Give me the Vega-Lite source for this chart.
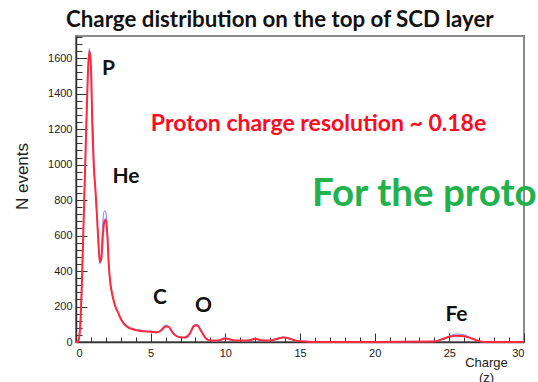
{
  "$schema": "https://vega.github.io/schema/vega-lite/v6.json",
  "autosize": {"type": "none"},
  "width": 448,
  "height": 306,
  "padding": {"left": 76, "top": 36, "right": 14, "bottom": 40},
  "background": "white",
  "title": {
    "text": "Charge distribution on the top of SCD layer",
    "anchor": "start",
    "frame": "group",
    "dx": -10,
    "dy": 25,
    "offset": 12,
    "baseline": "alphabetic",
    "font": "Lato",
    "fontSize": 22.3,
    "fontWeight": "bold",
    "color": "#111"
  },
  "config": {
    "view": {"stroke": "#8a8a8a", "strokeWidth": 2},
    "axis": {"grid": false}
  },
  "datasets": {
    "hist": [
      {"z": 0, "n": 0, "s": "blue"}, {"z": 0.2, "n": 15, "s": "blue"}, {"z": 0.3, "n": 110, "s": "blue"}, {"z": 0.4, "n": 340, "s": "blue"},
      {"z": 0.5, "n": 640, "s": "blue"}, {"z": 0.6, "n": 960, "s": "blue"}, {"z": 0.7, "n": 1240, "s": "blue"}, {"z": 0.8, "n": 1530, "s": "blue"},
      {"z": 0.9, "n": 1655, "s": "blue"}, {"z": 1.0, "n": 1500, "s": "blue"}, {"z": 1.1, "n": 1230, "s": "blue"}, {"z": 1.15, "n": 1200, "s": "blue"},
      {"z": 1.2, "n": 1010, "s": "blue"}, {"z": 1.3, "n": 850, "s": "blue"}, {"z": 1.4, "n": 700, "s": "blue"}, {"z": 1.5, "n": 560, "s": "blue"},
      {"z": 1.6, "n": 440, "s": "blue"}, {"z": 1.7, "n": 500, "s": "blue"}, {"z": 1.8, "n": 680, "s": "blue"}, {"z": 1.9, "n": 740, "s": "blue"},
      {"z": 2.0, "n": 730, "s": "blue"}, {"z": 2.1, "n": 620, "s": "blue"}, {"z": 2.2, "n": 420, "s": "blue"}, {"z": 2.3, "n": 340, "s": "blue"},
      {"z": 2.4, "n": 270, "s": "blue"}, {"z": 2.5, "n": 250, "s": "blue"}, {"z": 2.6, "n": 205, "s": "blue"}, {"z": 2.7, "n": 190, "s": "blue"},
      {"z": 2.8, "n": 165, "s": "blue"}, {"z": 3.0, "n": 135, "s": "blue"}, {"z": 3.2, "n": 100, "s": "blue"}, {"z": 3.4, "n": 92, "s": "blue"},
      {"z": 3.6, "n": 75, "s": "blue"}, {"z": 3.8, "n": 78, "s": "blue"}, {"z": 4.0, "n": 65, "s": "blue"}, {"z": 4.3, "n": 68, "s": "blue"},
      {"z": 4.6, "n": 58, "s": "blue"}, {"z": 5.0, "n": 62, "s": "blue"}, {"z": 5.4, "n": 52, "s": "blue"}, {"z": 5.7, "n": 70, "s": "blue"},
      {"z": 6.0, "n": 95, "s": "blue"}, {"z": 6.2, "n": 88, "s": "blue"}, {"z": 6.5, "n": 48, "s": "blue"}, {"z": 6.8, "n": 32, "s": "blue"},
      {"z": 7.0, "n": 25, "s": "blue"}, {"z": 7.3, "n": 28, "s": "blue"}, {"z": 7.6, "n": 48, "s": "blue"}, {"z": 7.9, "n": 95, "s": "blue"},
      {"z": 8.1, "n": 98, "s": "blue"}, {"z": 8.4, "n": 55, "s": "blue"}, {"z": 8.7, "n": 22, "s": "blue"}, {"z": 9.0, "n": 10, "s": "blue"},
      {"z": 9.5, "n": 6, "s": "blue"}, {"z": 10.0, "n": 25, "s": "blue"}, {"z": 10.3, "n": 12, "s": "blue"}, {"z": 10.7, "n": 10, "s": "blue"},
      {"z": 11.5, "n": 6, "s": "blue"}, {"z": 12.0, "n": 20, "s": "blue"}, {"z": 12.4, "n": 8, "s": "blue"}, {"z": 13.0, "n": 10, "s": "blue"},
      {"z": 13.5, "n": 20, "s": "blue"}, {"z": 13.9, "n": 28, "s": "blue"}, {"z": 14.3, "n": 18, "s": "blue"}, {"z": 14.8, "n": 5, "s": "blue"},
      {"z": 15.5, "n": 3, "s": "blue"}, {"z": 16.5, "n": 0, "s": "blue"}, {"z": 20, "n": 0, "s": "blue"}, {"z": 24, "n": 4, "s": "blue"},
      {"z": 24.5, "n": 18, "s": "blue"}, {"z": 25, "n": 32, "s": "blue"}, {"z": 25.5, "n": 45, "s": "blue"}, {"z": 26, "n": 40, "s": "blue"},
      {"z": 26.5, "n": 18, "s": "blue"}, {"z": 27, "n": 4, "s": "blue"}, {"z": 27.5, "n": 0, "s": "blue"}, {"z": 30, "n": 0, "s": "blue"},

      {"z": 0, "n": 0, "s": "red"}, {"z": 0.1, "n": 0, "s": "red"}, {"z": 0.2, "n": 20, "s": "red"}, {"z": 0.3, "n": 120, "s": "red"},
      {"z": 0.4, "n": 350, "s": "red"}, {"z": 0.5, "n": 650, "s": "red"}, {"z": 0.6, "n": 950, "s": "red"}, {"z": 0.7, "n": 1250, "s": "red"},
      {"z": 0.8, "n": 1520, "s": "red"}, {"z": 0.9, "n": 1640, "s": "red"}, {"z": 1.0, "n": 1560, "s": "red"}, {"z": 1.1, "n": 1200, "s": "red"},
      {"z": 1.2, "n": 980, "s": "red"}, {"z": 1.3, "n": 860, "s": "red"}, {"z": 1.4, "n": 720, "s": "red"}, {"z": 1.5, "n": 560, "s": "red"},
      {"z": 1.6, "n": 450, "s": "red"}, {"z": 1.7, "n": 470, "s": "red"}, {"z": 1.8, "n": 600, "s": "red"}, {"z": 1.9, "n": 680, "s": "red"},
      {"z": 2.0, "n": 690, "s": "red"}, {"z": 2.1, "n": 600, "s": "red"}, {"z": 2.2, "n": 430, "s": "red"}, {"z": 2.3, "n": 330, "s": "red"},
      {"z": 2.4, "n": 280, "s": "red"}, {"z": 2.5, "n": 240, "s": "red"}, {"z": 2.6, "n": 210, "s": "red"}, {"z": 2.7, "n": 185, "s": "red"},
      {"z": 2.8, "n": 170, "s": "red"}, {"z": 3.0, "n": 130, "s": "red"}, {"z": 3.2, "n": 105, "s": "red"}, {"z": 3.4, "n": 88, "s": "red"},
      {"z": 3.6, "n": 78, "s": "red"}, {"z": 3.8, "n": 72, "s": "red"}, {"z": 4.0, "n": 68, "s": "red"}, {"z": 4.3, "n": 62, "s": "red"},
      {"z": 4.6, "n": 60, "s": "red"}, {"z": 5.0, "n": 58, "s": "red"}, {"z": 5.4, "n": 55, "s": "red"}, {"z": 5.7, "n": 65, "s": "red"},
      {"z": 6.0, "n": 88, "s": "red"}, {"z": 6.2, "n": 85, "s": "red"}, {"z": 6.5, "n": 50, "s": "red"}, {"z": 6.8, "n": 30, "s": "red"},
      {"z": 7.0, "n": 27, "s": "red"}, {"z": 7.3, "n": 25, "s": "red"}, {"z": 7.6, "n": 45, "s": "red"}, {"z": 7.9, "n": 90, "s": "red"},
      {"z": 8.1, "n": 95, "s": "red"}, {"z": 8.4, "n": 60, "s": "red"}, {"z": 8.7, "n": 20, "s": "red"}, {"z": 9.0, "n": 8, "s": "red"},
      {"z": 9.5, "n": 8, "s": "red"}, {"z": 10.0, "n": 20, "s": "red"}, {"z": 10.3, "n": 15, "s": "red"}, {"z": 10.7, "n": 8, "s": "red"},
      {"z": 11.5, "n": 8, "s": "red"}, {"z": 12.0, "n": 18, "s": "red"}, {"z": 12.4, "n": 10, "s": "red"}, {"z": 13.0, "n": 8, "s": "red"},
      {"z": 13.5, "n": 18, "s": "red"}, {"z": 13.9, "n": 25, "s": "red"}, {"z": 14.3, "n": 20, "s": "red"}, {"z": 14.8, "n": 6, "s": "red"},
      {"z": 15.5, "n": 2, "s": "red"}, {"z": 16.5, "n": 0, "s": "red"}, {"z": 20, "n": 0, "s": "red"}, {"z": 24, "n": 3, "s": "red"},
      {"z": 24.5, "n": 15, "s": "red"}, {"z": 25, "n": 30, "s": "red"}, {"z": 25.5, "n": 35, "s": "red"}, {"z": 26, "n": 33, "s": "red"},
      {"z": 26.5, "n": 20, "s": "red"}, {"z": 27, "n": 5, "s": "red"}, {"z": 27.5, "n": 0, "s": "red"}, {"z": 30, "n": 0, "s": "red"}
    ],
    "elements": [
      {"z": 2.18, "n": 1505, "label": "P"},
      {"z": 3.35, "n": 895, "label": "He"},
      {"z": 5.63, "n": 212, "label": "C"},
      {"z": 8.54, "n": 167, "label": "O"},
      {"z": 25.48, "n": 121, "label": "Fe"}
    ],
    "note": [
      {"z": 16.24, "n": 1188, "label": "Proton charge resolution ~ 0.18e"}
    ],
    "green": [
      {"z": 15.8, "n": 765, "label": "For the proto"}
    ]
  },
  "encoding": {
    "x": {
      "field": "z", "type": "quantitative",
      "scale": {"domain": [0, 30], "nice": false, "zero": false},
      "axis": {
        "values": [0,1,2,3,4,5,6,7,8,9,10,11,12,13,14,15,16,17,18,19,20,21,22,23,24,25,26,27,28,29,30],
        "labelExpr": "datum.value % 5 === 0 ? datum.label : ''",
        "format": "d",
        "tickSize": {"condition": {"test": "datum.value % 5 === 0", "value": -9}, "value": -5},
        "tickColor": "#333",
        "domainColor": "#333",
        "domainWidth": 1.5,
        "labelFont": "Liberation Sans",
        "labelFontSize": 11,
        "labelColor": "#222",
        "labelPadding": 14,
        "title": ["Charge", "(z)"],
        "titleFont": "Liberation Sans",
        "titleFontSize": 13,
        "titleFontWeight": "normal",
        "titleColor": "#222",
        "titleX": 410,
        "titleY": 24,
        "titleAlign": "center",
        "titleBaseline": "alphabetic",
        "titleLineHeight": 15
      }
    },
    "y": {
      "field": "n", "type": "quantitative",
      "scale": {"domain": [0, 1725], "nice": false},
      "axis": {
        "values": [0,40,80,120,160,200,240,280,320,360,400,440,480,520,560,600,640,680,720,760,800,840,880,920,960,1000,1040,1080,1120,1160,1200,1240,1280,1320,1360,1400,1440,1480,1520,1560,1600,1640,1680,1720],
        "labelExpr": "datum.value % 200 === 0 ? datum.label : ''",
        "format": "d",
        "tickSize": {"condition": {"test": "datum.value % 200 === 0", "value": -11}, "value": -6},
        "tickColor": "#333",
        "domainColor": "#333",
        "domainWidth": 1.5,
        "labelFont": "Liberation Sans",
        "labelFontSize": 11,
        "labelColor": "#222",
        "labelPadding": 15,
        "title": "N events",
        "titleFont": "Liberation Sans",
        "titleFontSize": 17,
        "titleFontWeight": "normal",
        "titleColor": "#222",
        "titleX": -54,
        "titleY": 140,
        "titleAngle": -90,
        "titleAlign": "center",
        "titleBaseline": "middle"
      }
    }
  },
  "layer": [
    {
      "data": {"name": "hist"},
      "mark": {"type": "line", "interpolate": "monotone"},
      "encoding": {
        "color": {"field": "s", "type": "nominal", "scale": {"domain": ["blue", "red"], "range": ["#8c8cff", "#ff2a3c"]}, "legend": null},
        "size": {"field": "s", "type": "nominal", "scale": {"domain": ["blue", "red"], "range": [1.2, 2]}, "legend": null}
      }
    },
    {
      "data": {"name": "elements"},
      "mark": {"type": "text", "font": "Lato", "fontSize": 21, "fontWeight": "bold", "color": "#111", "align": "center", "baseline": "alphabetic"},
      "encoding": {"text": {"field": "label"}}
    },
    {
      "data": {"name": "note"},
      "mark": {"type": "text", "font": "Lato", "fontSize": 23, "fontWeight": "bold", "color": "#ff0a1e", "align": "center", "baseline": "alphabetic"},
      "encoding": {"text": {"field": "label"}}
    },
    {
      "data": {"name": "green"},
      "mark": {"type": "text", "font": "Lato", "fontSize": 38.5, "fontWeight": "bold", "color": "#22b14c", "align": "left", "baseline": "alphabetic"},
      "encoding": {"text": {"field": "label"}}
    }
  ]
}
